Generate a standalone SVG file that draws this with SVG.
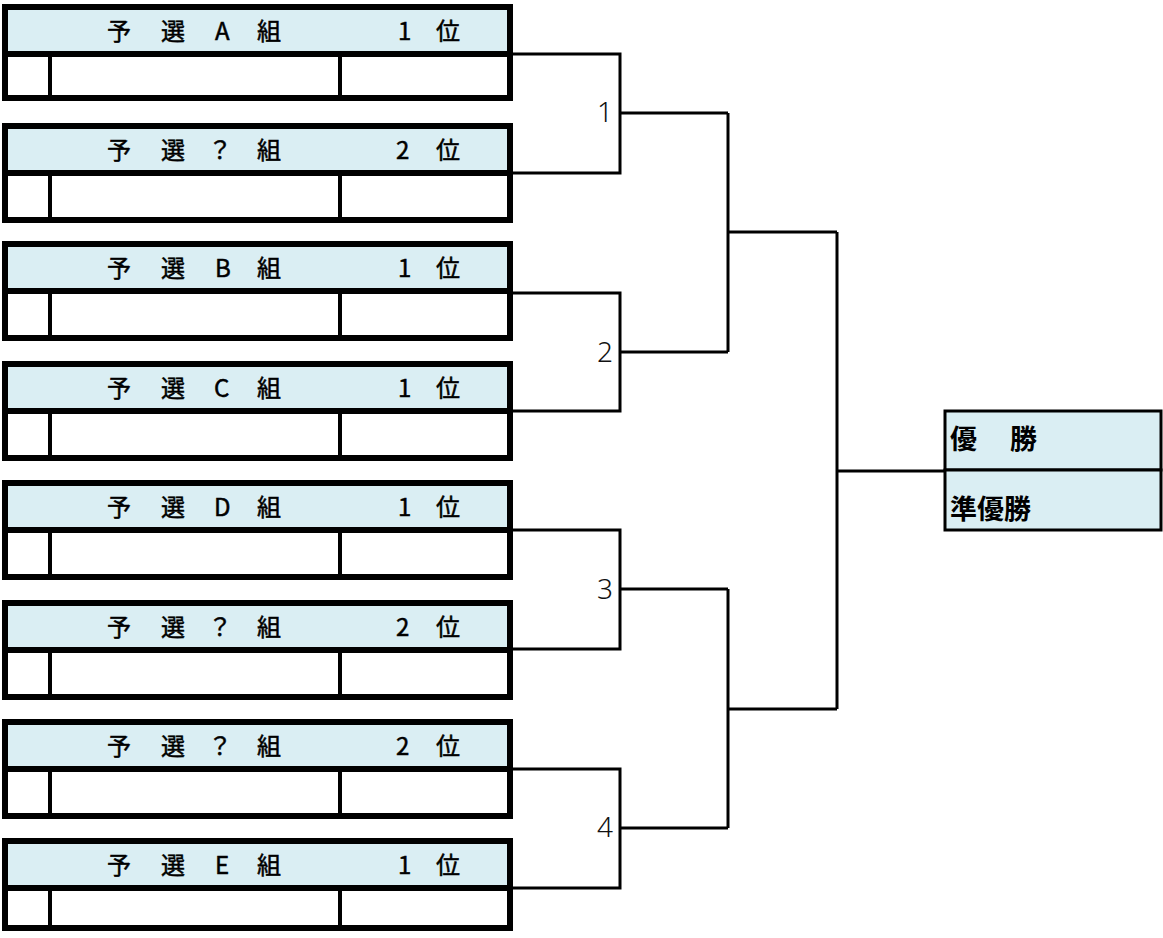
<svg xmlns="http://www.w3.org/2000/svg" width="1163" height="938" viewBox="0 0 1163 938">
<style>
.frame{fill:#ffffff;stroke:#000;stroke-width:6}
.head{fill:#DAEEF3}
.div{stroke:#000;stroke-width:6}
.v1{stroke:#000;stroke-width:4}
.v2{stroke:#000;stroke-width:4}
.ht{font-family:"Noto Sans CJK JP","Noto Sans",sans-serif;font-size:24px;fill:#000;stroke:#000;stroke-width:0.5}
.conn{fill:none;stroke:#000;stroke-width:3}
.num{font-family:"Noto Sans","Liberation Sans",sans-serif;font-size:28px;fill:#111;text-anchor:end;font-weight:300}
.fin{fill:#DAEEF3;stroke:#000;stroke-width:3}
.ft{font-family:"Noto Sans CJK JP",sans-serif;font-size:27px;fill:#000;font-weight:bold}
</style>
<defs>
<g id="boxbase">
<rect class="frame" x="5" y="3" width="505" height="94"/>
<rect class="head" x="8" y="6" width="499" height="41"/>
<line class="div" x1="2" y1="50" x2="513" y2="50"/>
<line class="v1" x1="50" y1="50" x2="50" y2="97"/>
<line class="v2" x1="340" y1="50" x2="340" y2="97"/>
</g>
</defs>
<g id="box1" transform="translate(0,4)">
<rect class="frame" x="5" y="3" width="505" height="91"/>
<rect class="head" x="8" y="6" width="499" height="41"/>
<line class="div" x1="2" y1="50" x2="513" y2="50"/>
<line class="v1" x1="50" y1="50" x2="50" y2="94"/>
<line class="v2" x1="340" y1="50" x2="340" y2="94"/>
<text class="ht" y="36"><tspan x="107">予</tspan><tspan x="161">選</tspan><tspan x="215">A</tspan><tspan x="257">組</tspan><tspan x="398">1</tspan><tspan x="436">位</tspan></text>
</g>
<g id="box2" transform="translate(0,123)">
<use href="#boxbase"/>
<text class="ht" y="36"><tspan x="107">予</tspan><tspan x="161">選</tspan><tspan x="208">？</tspan><tspan x="257">組</tspan><tspan x="396">2</tspan><tspan x="436">位</tspan></text>
</g>
<g id="box3" transform="translate(0,241)">
<use href="#boxbase"/>
<text class="ht" y="36"><tspan x="107">予</tspan><tspan x="161">選</tspan><tspan x="215">B</tspan><tspan x="257">組</tspan><tspan x="398">1</tspan><tspan x="436">位</tspan></text>
</g>
<g id="box4" transform="translate(0,361)">
<use href="#boxbase"/>
<text class="ht" y="36"><tspan x="107">予</tspan><tspan x="161">選</tspan><tspan x="214">C</tspan><tspan x="257">組</tspan><tspan x="398">1</tspan><tspan x="436">位</tspan></text>
</g>
<g id="box5" transform="translate(0,480)">
<use href="#boxbase"/>
<text class="ht" y="36"><tspan x="107">予</tspan><tspan x="161">選</tspan><tspan x="214">D</tspan><tspan x="257">組</tspan><tspan x="398">1</tspan><tspan x="436">位</tspan></text>
</g>
<g id="box6" transform="translate(0,600)">
<use href="#boxbase"/>
<text class="ht" y="36"><tspan x="107">予</tspan><tspan x="161">選</tspan><tspan x="208">？</tspan><tspan x="257">組</tspan><tspan x="396">2</tspan><tspan x="436">位</tspan></text>
</g>
<g id="box7" transform="translate(0,719)">
<use href="#boxbase"/>
<text class="ht" y="36"><tspan x="107">予</tspan><tspan x="161">選</tspan><tspan x="208">？</tspan><tspan x="257">組</tspan><tspan x="396">2</tspan><tspan x="436">位</tspan></text>
</g>
<g id="box8" transform="translate(0,838)">
<rect class="frame" x="5" y="3" width="505" height="87"/>
<rect class="head" x="8" y="6" width="499" height="41"/>
<line class="div" x1="2" y1="50" x2="513" y2="50"/>
<line class="v1" x1="50" y1="50" x2="50" y2="90"/>
<line class="v2" x1="340" y1="50" x2="340" y2="90"/>
<text class="ht" y="36"><tspan x="107">予</tspan><tspan x="161">選</tspan><tspan x="215">E</tspan><tspan x="257">組</tspan><tspan x="398">1</tspan><tspan x="436">位</tspan></text>
</g>
<g id="final">
<rect class="fin" x="945" y="411" width="216" height="59"/>
<rect class="fin" x="945" y="470" width="216" height="60"/>
<text class="ft" x="950" y="449">優<tspan x="1010">勝</tspan></text>
<text class="ft" x="950" y="519">準優勝</text>
</g>
<g id="connectors">
<path class="conn" d="M513,54 H620 V173 H513"/>
<path class="conn" d="M620,113 H728"/>
<path class="conn" d="M513,293 H620 V411 H513"/>
<path class="conn" d="M620,352 H728"/>
<path class="conn" d="M513,530 H620 V649 H513"/>
<path class="conn" d="M620,589 H728"/>
<path class="conn" d="M513,769 H620 V888 H513"/>
<path class="conn" d="M620,828 H728"/>
<path class="conn" d="M728,113 V352"/>
<path class="conn" d="M728,232 H837"/>
<path class="conn" d="M728,589 V828"/>
<path class="conn" d="M728,709 H837"/>
<path class="conn" d="M837,232 V709"/>
<path class="conn" d="M837,471 H945"/>
</g>
<g id="labels">
<text class="num" x="613" y="122">1</text>
<text class="num" x="613" y="362">2</text>
<text class="num" x="613" y="599">3</text>
<text class="num" x="613" y="837">4</text>
</g>
</svg>
